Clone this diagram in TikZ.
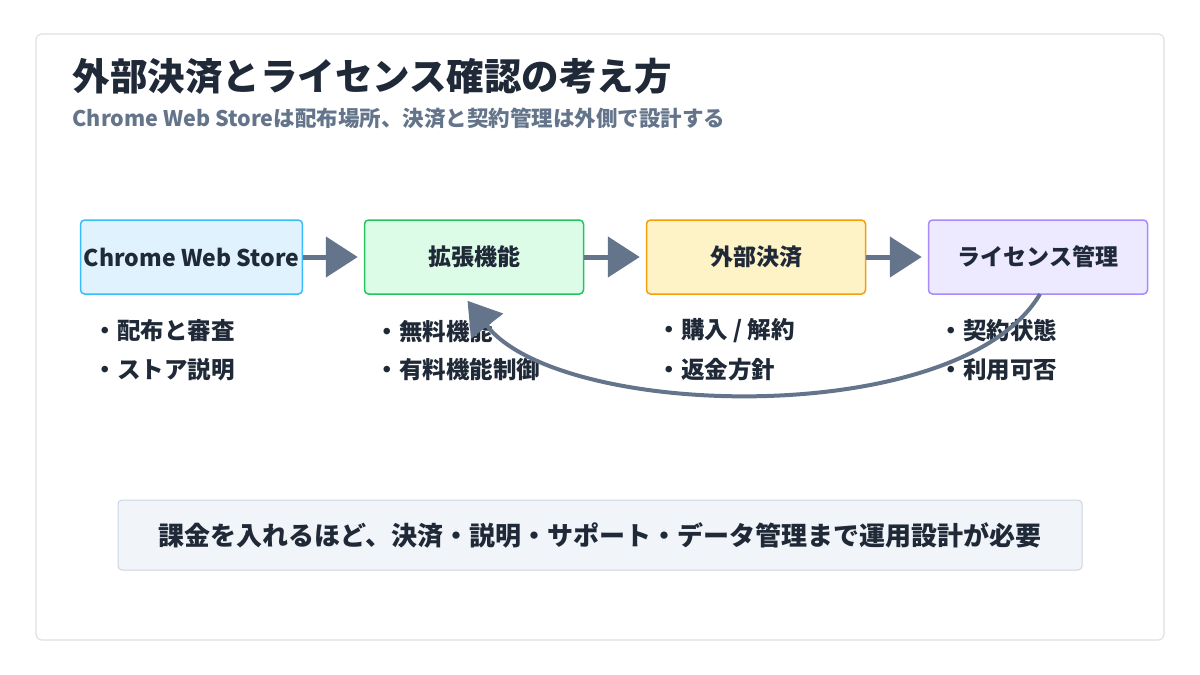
\documentclass[tikz,border=0pt]{standalone}
\usepackage{fontspec}
\setmainfont{Noto Sans CJK JP}
\usetikzlibrary{arrows.meta,positioning}
\definecolor{ink}{HTML}{1F2937}
\definecolor{muted}{HTML}{64748B}
\definecolor{arrowc}{HTML}{64748B}
\definecolor{cwsfill}{HTML}{E0F2FE}\definecolor{cwsline}{HTML}{38BDF8}
\definecolor{extfill}{HTML}{DCFCE7}\definecolor{extline}{HTML}{22C55E}
\definecolor{payfill}{HTML}{FEF3C7}\definecolor{payline}{HTML}{F59E0B}
\definecolor{licfill}{HTML}{EDE9FE}\definecolor{licline}{HTML}{A78BFA}
\definecolor{sumfill}{HTML}{F1F5F9}\definecolor{sumline}{HTML}{CBD5E1}
\tikzset{
  stage/.style={draw, rounded corners=4pt, line width=1.5pt, minimum width=219pt, minimum height=74pt, font=\fontsize{23}{27}\selectfont\bfseries, text=ink},
  note/.style={anchor=west, font=\fontsize{23.5}{27}\selectfont\bfseries, text=ink},
  flow/.style={-{Triangle[length=32pt,width=40pt,fill=arrowc]}, line width=5pt, draw=arrowc, shorten >=6pt}
}
\begin{document}
\begin{tikzpicture}[x=1pt,y=-1pt]
        \useasboundingbox (0,0) rectangle (1200,675);
        \draw[draw=black!12, line width=1.2pt, fill=white, rounded corners=6pt] (36,34) rectangle (1164,640);

        \node[anchor=west, font=\fontsize{37.5}{42}\selectfont\bfseries, text=ink] (title) at (69,76) {外部決済とライセンス確認の考え方};
        \node[anchor=west, font=\fontsize{21.5}{25}\selectfont\bfseries, text=muted] (sub) at (69,118) {Chrome Web Storeは配布場所、決済と契約管理は外側で設計する};

        \node[stage, fill=cwsfill, draw=cwsline] (cws)  at (191.5,257) {Chrome Web Store};
        \node[stage, fill=extfill, draw=extline] (ext)  at (474,257) {拡張機能};
        \node[stage, fill=payfill, draw=payline] (pay)  at (756,257) {外部決済};
        \node[stage, fill=licfill, draw=licline] (lic)  at (1038,257) {ライセンス管理};

        \path [flow](cws) edge (ext);
        \path [flow](ext) edge (pay);
        \path [flow](pay) edge (lic);

        \node[note] (n1a) at (90,331) {・配布と審査};
        \node[note] (n1b) at (90,370) {・ストア説明};
        \node[note] (n2a) at (372,331) {・無料機能};
        \node[note] (n2b) at (372,370) {・有料機能制御};
        \node[note] (n3a) at (654,331) {・購入 / 解約};
        \node[note] (n3b) at (654,370) {・返金方針};
        \node[note] (n4a) at (936,331) {・契約状態};
        \node[note] (n4b) at (936,370) {・利用可否};

        \coordinate (back) at (1040,294);
        \coordinate (into) at (470,304);
        \draw[flow, line width=4pt, shorten >=-4pt] (back) .. controls (960,430) and (560,420) .. (into);

        \node[draw=sumline, line width=1pt, fill=sumfill, rounded corners=4pt, minimum width=964pt, minimum height=70pt,
              font=\fontsize{26}{30}\selectfont\bfseries, text=ink] (sum) at (600,535)
              {課金を入れるほど、決済・説明・サポート・データ管理まで運用設計が必要};
\end{tikzpicture}
\end{document}
